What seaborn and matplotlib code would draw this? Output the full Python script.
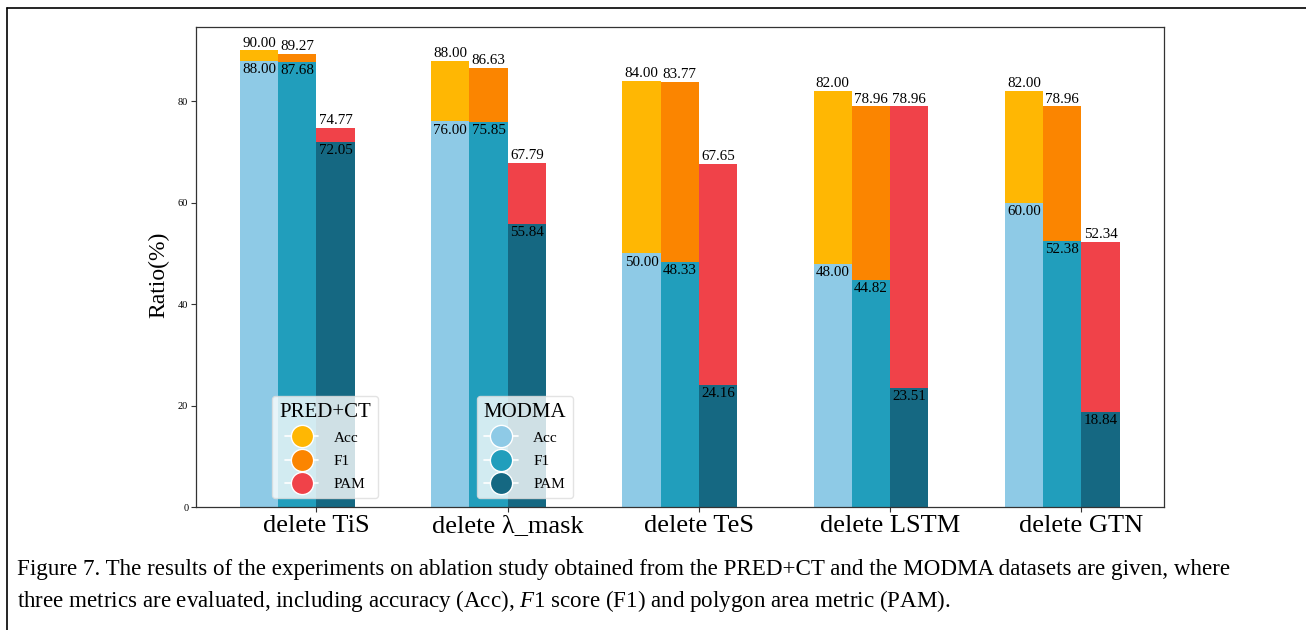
import numpy as np
import pandas as pd
import matplotlib
matplotlib.use("Agg")
import matplotlib.pyplot as plt
from matplotlib.lines import Line2D
import seaborn as sns

categories = ["delete TiS", "delete λ_mask", "delete TeS", "delete LSTM", "delete GTN"]
metrics = ["Acc", "F1", "PAM"]
pred_acc = [90.00, 88.00, 84.00, 82.00, 82.00]
pred_f1 = [89.27, 86.63, 83.77, 78.96, 78.96]
pred_pam = [74.77, 67.79, 67.65, 78.96, 52.34]
modma_acc = [88.00, 76.00, 50.00, 48.00, 60.00]
modma_f1 = [87.68, 75.85, 48.33, 44.82, 52.38]
modma_pam = [72.05, 55.84, 24.16, 23.51, 18.84]
yticks = [0, 20, 40, 60, 80]

pred_colors = ["#FFB703", "#FB8500", "#F04249"]
modma_colors = ["#8ECAE6", "#219EBC", "#156882"]

caption1 = ("Figure 7. The results of the experiments on ablation study obtained from the PRED+CT "
            "and the MODMA datasets are given, where")
caption2 = ("three metrics are evaluated, including accuracy (Acc), $\\mathit{F}$1 score (F1) "
            "and polygon area metric (PAM).")

sns.set_theme(style="ticks")
plt.rcParams["font.family"] = ["Liberation Serif", "DejaVu Serif"]
plt.rcParams["mathtext.fontset"] = "custom"
plt.rcParams["mathtext.rm"] = "Liberation Serif"
plt.rcParams["mathtext.it"] = "Liberation Serif:italic"
plt.rcParams["text.color"] = "black"
plt.rcParams["axes.labelcolor"] = "black"
plt.rcParams["xtick.color"] = "black"
plt.rcParams["ytick.color"] = "black"


def long_df(vals):
    rows = []
    for m, series in zip(metrics, vals):
        for i, v in enumerate(series):
            rows.append({"pos": i - 0.1, "metric": m, "value": v})
    return pd.DataFrame(rows)


df_pred = long_df([pred_acc, pred_f1, pred_pam])
df_modma = long_df([modma_acc, modma_f1, modma_pam])

fig = plt.figure(figsize=(13.06, 6.30), dpi=100)
ax = fig.add_axes([0.150, 0.195, 0.741, 0.762])

sns.barplot(data=df_pred, x="pos", y="value", hue="metric", hue_order=metrics,
            palette=pred_colors, native_scale=True, width=0.6, dodge=True,
            errorbar=None, saturation=1, linewidth=0, legend=False, ax=ax)
n_pred = len(ax.containers)
sns.barplot(data=df_modma, x="pos", y="value", hue="metric", hue_order=metrics,
            palette=modma_colors, native_scale=True, width=0.6, dodge=True,
            errorbar=None, saturation=1, linewidth=0, legend=False, ax=ax)

for k, cont in enumerate(ax.containers):
    outer = k < n_pred
    for rect in cont:
        x = rect.get_x() + rect.get_width() / 2
        h = rect.get_height()
        if outer:
            ax.annotate(f"{h:.2f}", (x, h), xytext=(0, 0.5), textcoords="offset points",
                        ha="center", va="bottom", fontsize=10.8, color="black")
        else:
            ax.annotate(f"{h:.2f}", (x, h), xytext=(0, -1.5), textcoords="offset points",
                        ha="center", va="top", fontsize=10.8, color="black")

ax.set_xlim(-0.63, 4.43)
ax.set_ylim(0, 94.6)
ax.set_xticks(range(len(categories)))
ax.set_xticklabels(categories, fontsize=19)
ax.set_yticks(yticks)
ax.set_yticklabels([str(t) for t in yticks], fontsize=7.5)
ax.set_xlabel("")
ax.set_ylabel("Ratio(%)", fontsize=17)
ax.yaxis.set_label_coords(-0.027, 0.485)
ax.tick_params(axis="both", length=3.5, width=0.8, pad=2, color="#333333")
for s in ax.spines.values():
    s.set_linewidth(0.9)
    s.set_color("#333333")


def handles(colors):
    return [Line2D([0], [0], color="white", lw=1.2, marker="o", markersize=16,
                   markerfacecolor=c, markeredgecolor="white", markeredgewidth=1.0)
            for c in colors]


legend_kw = dict(loc="lower left", fontsize=11, title_fontsize=15,
                 frameon=True, framealpha=0.8, edgecolor="#dddddd", borderaxespad=0,
                 handlelength=2.2, labelspacing=0.62, handletextpad=1.0,
                 borderpad=0.45)
leg1 = ax.legend(handles(pred_colors), metrics, title="PRED+CT",
                 bbox_to_anchor=(0.079, 0.019), **legend_kw)
ax.add_artist(leg1)
leg2 = ax.legend(handles(modma_colors), metrics, title="MODMA",
                 bbox_to_anchor=(0.290, 0.019), **legend_kw)

fig.text(17 / 1306, 1 - 569 / 630, caption1, fontsize=16.6, va="center", ha="left")
fig.text(17 / 1306, 1 - 601 / 630, caption2, fontsize=16.6, va="center", ha="left")

fx = 7 / 1306
fy = 1 - 8 / 630
fig.add_artist(Line2D([fx, fx], [0, fy], transform=fig.transFigure, color="black", lw=1.2))
fig.add_artist(Line2D([fx, 1], [fy, fy], transform=fig.transFigure, color="black", lw=1.2))

fig.savefig("out.png", dpi=100)
